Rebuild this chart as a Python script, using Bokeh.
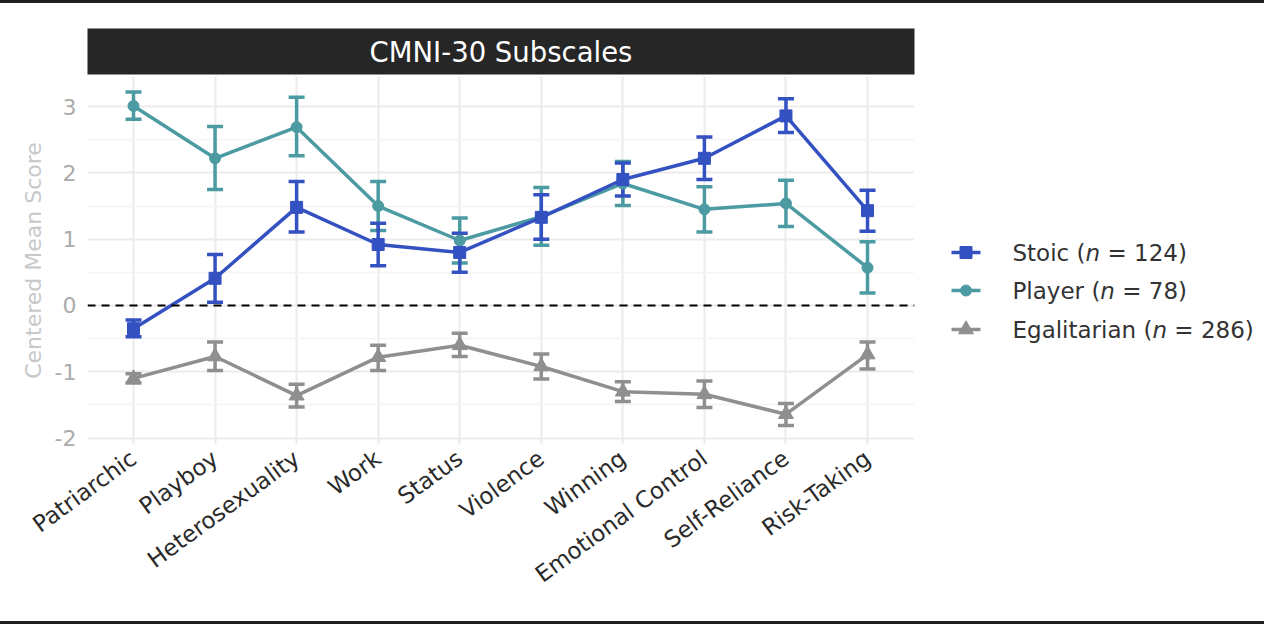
from bokeh.plotting import figure
from bokeh.models import ColumnDataSource, Whisker, TeeHead, Span, FixedTicker, Range1d, Label, Div
from bokeh.layouts import column, row
from bokeh.embed import file_html
from bokeh.resources import INLINE
from bokeh.core.properties import value

# ---------------- data ----------------
categories = ["Patriarchic", "Playboy", "Heterosexuality", "Work", "Status", "Violence",
              "Winning", "Emotional Control", "Self-Reliance", "Risk-Taking"]

stoic_mean = [-0.35, 0.41, 1.48, 0.92, 0.80, 1.33, 1.90, 2.22, 2.86, 1.43]
stoic_lower = [-0.47, 0.05, 1.11, 0.60, 0.50, 1.00, 1.65, 1.90, 2.61, 1.12]
stoic_upper = [-0.22, 0.77, 1.87, 1.24, 1.09, 1.67, 2.15, 2.54, 3.12, 1.74]

player_mean = [3.01, 2.22, 2.69, 1.50, 0.98, 1.34, 1.84, 1.45, 1.54, 0.57]
player_lower = [2.81, 1.75, 2.26, 1.13, 0.64, 0.91, 1.51, 1.11, 1.19, 0.19]
player_upper = [3.22, 2.70, 3.14, 1.87, 1.32, 1.78, 2.17, 1.79, 1.89, 0.96]

egal_mean = [-1.10, -0.77, -1.36, -0.78, -0.60, -0.92, -1.30, -1.34, -1.64, -0.74]
egal_lower = [-1.17, -0.98, -1.53, -0.98, -0.77, -1.11, -1.45, -1.54, -1.81, -0.96]
egal_upper = [-1.03, -0.55, -1.19, -0.60, -0.42, -0.73, -1.15, -1.14, -1.48, -0.55]

group_names = ["Stoic", "Player", "Egalitarian"]
group_n = [124, 78, 286]

y_ticks = [-2, -1, 0, 1, 2, 3]
y_minor = [-1.5, -0.5, 0.5, 1.5, 2.5]
panel_title = "CMNI-30 Subscales"
y_title = "Centered Mean Score"

# ---------------- style ----------------
FONT = "DejaVu Sans"
COLORS = ["#3451C1", "#4C9BA2", "#8F8F8F"]
MARKERS = ["square", "circle", "triangle"]
MSIZES = [12, 11, 15]
LW = 3.5

x_pos = list(range(1, len(categories) + 1))

# ---------------- strip (facet header) ----------------
strip = figure(frame_width=827, frame_height=46, x_range=Range1d(0, 1), y_range=Range1d(0, 1),
               min_border_left=87, min_border_right=26, min_border_top=25, min_border_bottom=2,
               output_backend="svg", toolbar_location=None,
               x_axis_location=None, y_axis_location=None)
strip.background_fill_color = "#262626"
strip.border_fill_color = "white"
strip.outline_line_color = None
strip.xgrid.visible = False
strip.ygrid.visible = False
strip.add_layout(Label(x=0.5, y=0.5, text=panel_title, text_align="center", text_baseline="middle",
                       text_color="white", text_font=FONT, text_font_size="27.5px"))

# ---------------- main panel ----------------
p = figure(frame_width=827, frame_height=368,
           x_range=Range1d(0.436, 10.576), y_range=Range1d(-2.097, 3.454),
           min_border_left=87, min_border_right=26, min_border_top=0, min_border_bottom=177,
           output_backend="svg", toolbar_location=None)
p.outline_line_color = None
p.background_fill_color = "white"
p.border_fill_color = "white"

p.xaxis.ticker = FixedTicker(ticks=x_pos)
p.xaxis.major_label_overrides = {x: c for x, c in zip(x_pos, categories)}
p.xaxis.major_label_orientation = 0.63
p.xaxis.major_label_text_font = FONT
p.xaxis.major_label_text_font_size = "23px"
p.xaxis.major_label_text_color = "#2a2a2a"
p.xaxis.major_label_standoff = 5
p.xaxis.axis_line_color = None
p.xaxis.major_tick_line_color = None
p.xaxis.minor_tick_line_color = None

p.yaxis.ticker = FixedTicker(ticks=y_ticks, minor_ticks=y_minor)
p.yaxis.major_label_overrides = {t: str(t) for t in y_ticks}
p.yaxis.major_label_text_font = FONT
p.yaxis.major_label_text_font_size = "22px"
p.yaxis.major_label_text_color = "#ABABAB"
p.yaxis.major_label_standoff = 5
p.yaxis.axis_line_color = None
p.yaxis.major_tick_line_color = None
p.yaxis.minor_tick_line_color = None
p.yaxis.axis_label = y_title
p.yaxis.axis_label_text_font = FONT
p.yaxis.axis_label_text_font_size = "22px"
p.yaxis.axis_label_text_font_style = "normal"
p.yaxis.axis_label_text_color = "#C8C8C8"
p.yaxis.axis_label_standoff = 6

p.xgrid.grid_line_color = "#EBEBEB"
p.xgrid.grid_line_width = 2
p.ygrid.grid_line_color = "#EBEBEB"
p.ygrid.grid_line_width = 2
p.ygrid.minor_grid_line_color = "#F4F4F4"
p.ygrid.minor_grid_line_width = 1.5

p.add_layout(Span(location=0, dimension="width", line_color="black", line_dash="8 6", line_width=2))

series = [
    (egal_mean, egal_lower, egal_upper, 2),
    (player_mean, player_lower, player_upper, 1),
    (stoic_mean, stoic_lower, stoic_upper, 0),
]
for mean, lo, hi, gi in series:
    col = COLORS[gi]
    src = ColumnDataSource(dict(x=x_pos, y=mean, lower=lo, upper=hi))
    p.add_layout(Whisker(base="x", lower="lower", upper="upper", source=src,
                         line_color=col, line_width=LW,
                         upper_head=TeeHead(size=16, line_color=col, line_width=LW),
                         lower_head=TeeHead(size=16, line_color=col, line_width=LW)))
    p.line("x", "y", source=src, line_color=col, line_width=LW)
    p.scatter("x", "y", source=src, marker=MARKERS[gi], size=MSIZES[gi],
              fill_color=col, line_color=col)

# ---------------- legend panel ----------------
DV = {' ': .318, '(': .390, ')': .390, '=': .838, 'S': .635, 't': .392, 'o': .612, 'i': .278,
      'c': .550, 'P': .603, 'l': .278, 'a': .613, 'y': .592, 'e': .615, 'r': .411, 'E': .632,
      'g': .635, 'n': .634}
for d in "0123456789":
    DV[d] = .636


def tw(s, size):
    return sum(DV.get(ch, 0.6) for ch in s) * size


LEG_FS = 23
leg = figure(frame_width=324, frame_height=618, x_range=Range1d(0, 324), y_range=Range1d(618, 0),
             min_border=0, output_backend="svg", toolbar_location=None,
             x_axis_location=None, y_axis_location=None)
leg.outline_line_color = None
leg.xgrid.visible = False
leg.ygrid.visible = False

row_y = [249, 287, 326]
for gi, (name, n) in enumerate(zip(group_names, group_n)):
    y = row_y[gi]
    col = COLORS[gi]
    leg.segment(x0=[11], y0=[y], x1=[40], y1=[y], line_color=col, line_width=LW)
    leg.scatter(x=[25.5], y=[y], marker=MARKERS[gi], size=MSIZES[gi], fill_color=col, line_color=col)
    pre = f"{name} ("
    post = f"= {n})"
    x0 = 72
    x1 = x0 + tw(pre, LEG_FS)
    x2 = x1 + tw("n", LEG_FS) + tw(" ", LEG_FS)
    leg.text(x=[x0], y=[y], text=[pre], text_font=value(FONT), text_font_size=value(f"{LEG_FS}px"),
             text_baseline="middle", text_align="left", text_color="#333333")
    leg.text(x=[x1], y=[y], text=["n"], text_font=value(FONT), text_font_size=value(f"{LEG_FS}px"),
             text_font_style="italic", text_baseline="middle", text_align="left", text_color="#333333")
    leg.text(x=[x2], y=[y], text=[post], text_font=value(FONT), text_font_size=value(f"{LEG_FS}px"),
             text_baseline="middle", text_align="left", text_color="#333333")

top_rule = Div(width=1264, height=3, margin=(0, 0, 0, 0), styles={"background-color": "#1e1e1e"})
bot_rule = Div(width=1264, height=3, margin=(0, 0, 0, 0), styles={"background-color": "#1e1e1e"})

layout = column(top_rule, row(column(strip, p), leg), bot_rule)

open("out.html", "w").write(file_html(layout, INLINE))
